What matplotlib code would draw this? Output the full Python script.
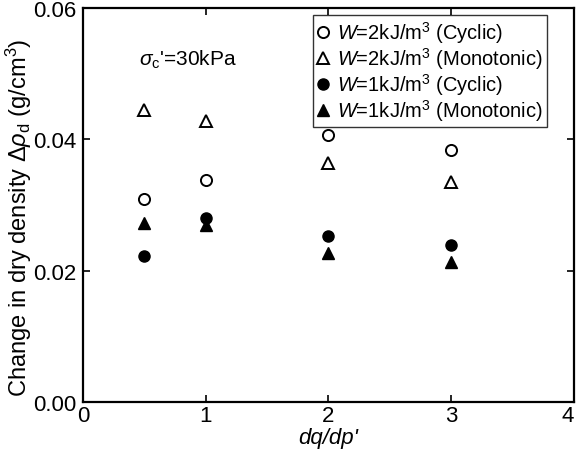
import matplotlib.pyplot as plt
from matplotlib.ticker import FormatStrFormatter

plt.rcParams['font.family'] = ['Liberation Sans', 'DejaVu Sans']
plt.rcParams['mathtext.fontset'] = 'custom'
plt.rcParams['mathtext.rm'] = 'Liberation Sans'
plt.rcParams['mathtext.it'] = 'Liberation Sans:italic'

# dq/dp' ratios
ratio = [0.5, 1, 2, 3]
# change in dry density (g/cm3)
w2_cyclic = [0.0309, 0.0338, 0.0407, 0.0384]
w2_mono = [0.0445, 0.0428, 0.0364, 0.0335]
w1_cyclic = [0.0223, 0.0280, 0.0253, 0.0239]
w1_mono = [0.0272, 0.0270, 0.0227, 0.0213]

fig = plt.figure(figsize=(5.78, 4.52), dpi=100)
ax = fig.add_axes([0.1436, 0.1084, 0.8494, 0.8716])

ms = 8
ax.plot(ratio, w2_cyclic, 'o', mfc='white', mec='black', mew=1.4, ms=ms,
        label=r'$W$=2kJ/m$^3$ (Cyclic)')
ax.plot(ratio, w2_mono, '^', mfc='white', mec='black', mew=1.4, ms=ms,
        label=r'$W$=2kJ/m$^3$ (Monotonic)')
ax.plot(ratio, w1_cyclic, 'o', mfc='black', mec='black', ms=ms,
        label=r'$W$=1kJ/m$^3$ (Cyclic)')
ax.plot(ratio, w1_mono, '^', mfc='black', mec='black', ms=ms,
        label=r'$W$=1kJ/m$^3$ (Monotonic)')

ax.set_xlim(0, 4)
ax.set_ylim(0, 0.06)
ax.set_xticks([0, 1, 2, 3, 4])
ax.set_yticks([0, 0.02, 0.04, 0.06])
ax.yaxis.set_major_formatter(FormatStrFormatter('%.2f'))
ax.tick_params(direction='in', top=True, right=True, length=5, width=1.2,
               labelsize=16)
ax.tick_params(axis='x', pad=2)
ax.tick_params(axis='y', pad=5)
ax.get_xticklabels()[-1].set_horizontalalignment('right')
for s in ax.spines.values():
    s.set_linewidth(1.6)

ax.set_xlabel("dq/dp'", fontsize=16, fontstyle='italic', labelpad=1)
ax.set_ylabel(r'Change in dry density $\mathit{\Delta\rho}_{\rm d}$ (g/cm$^3$)',
              fontsize=17)
ax.yaxis.set_label_coords(-0.1, 0.47)

ax.text(0.456, 0.0522, r"$\sigma_{\rm c}$'=30kPa", fontsize=15, va='center')

leg = ax.legend(loc='upper right', bbox_to_anchor=(0.945, 0.982), fontsize=14.5,
                frameon=True, fancybox=False, edgecolor='black',
                handlelength=0.6, handletextpad=0.4, labelspacing=0.0,
                borderpad=0.2, borderaxespad=0)
leg.get_frame().set_linewidth(1.0)

plt.savefig('out.png', dpi=100)
